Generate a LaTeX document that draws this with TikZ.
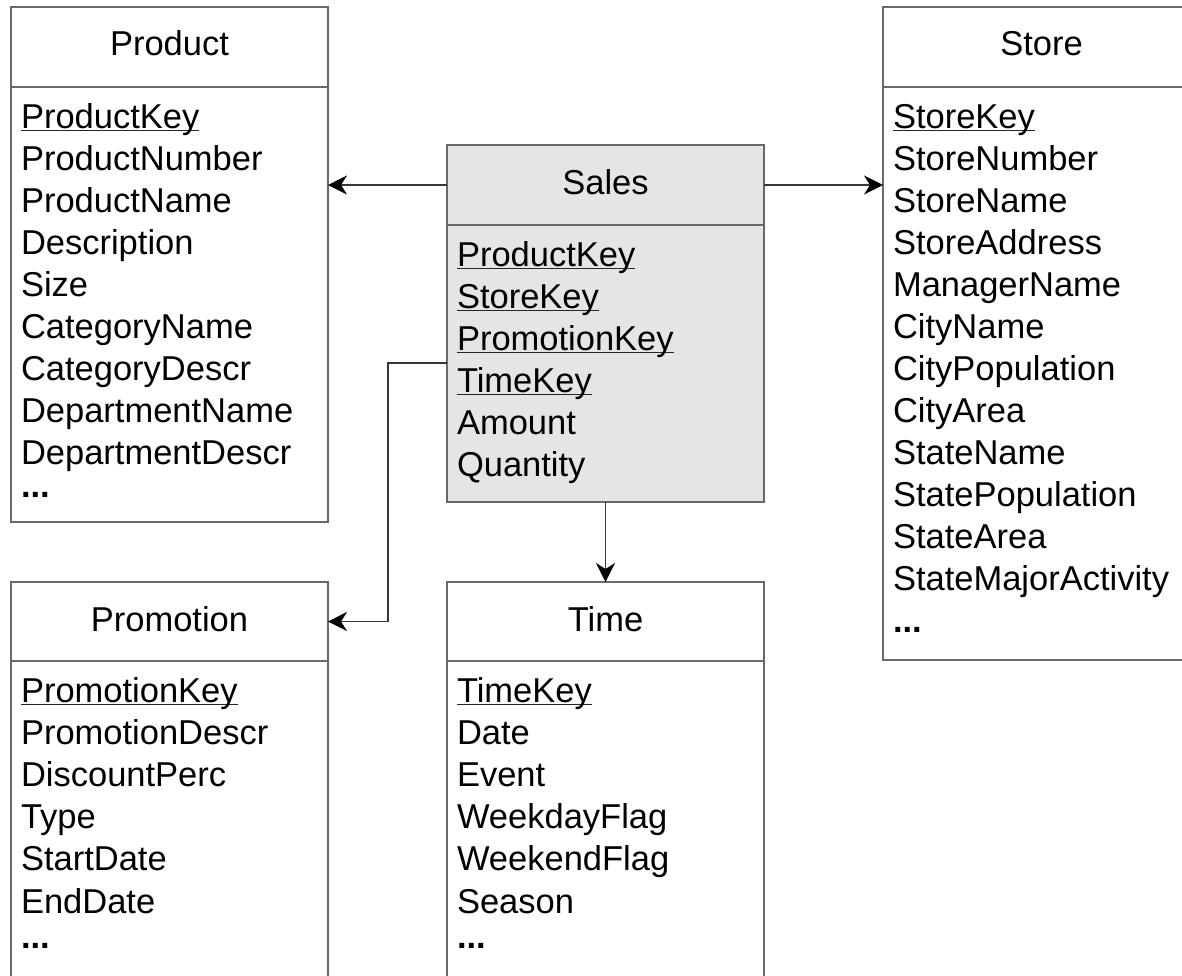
\documentclass[tikz,border=0pt]{standalone}
\usepackage{fontspec}
\setmainfont{Liberation Sans}
\usetikzlibrary{arrows.meta}
\definecolor{boxgray}{RGB}{105,105,105}
\definecolor{salesfill}{RGB}{229,229,229}
\definecolor{conncol}{RGB}{55,55,55}
\newsavebox\keybox
\newcommand\keyul[1]{\sbox\keybox{#1}\rlap{\color{black!85}\rule[-3.4pt]{\wd\keybox}{1.8pt}}\usebox\keybox}
\newcommand\moredots{\textbf{...}}
\begin{document}
\begin{tikzpicture}[x=1pt,y=-1pt,
  box/.style={draw=boxgray, line width=1.8pt, minimum width=317pt, inner sep=0pt, outer sep=0pt},
  txt/.style={inner sep=0pt, outer sep=0pt, font=\fontsize{34.5}{42}\selectfont, text=black},
  fld/.style={txt, anchor=base west},
  ttl/.style={txt, anchor=base},
  conn/.style={draw=conncol, line width=1.4pt, -{Stealth[length=19pt, width=19pt, inset=6pt, color=black]}}]
\useasboundingbox (0,0) rectangle (1182,975);
\clip (0,0) rectangle (1182,975);
% Product
\node[box, minimum height=80pt] (prodH) at (169.5,47) {};
\node[box, minimum height=435pt] (prodB) at (169.5,304.5) {};
% Sales
\node[box, minimum height=80pt, fill=salesfill] (salesH) at (605.5,185) {};
\node[box, minimum height=277pt, fill=salesfill] (salesB) at (605.5,363.5) {};
% Store
\node[box, minimum height=80pt] (storeH) at (1041.5,47) {};
\node[box, minimum height=573pt] (storeB) at (1041.5,373.5) {};
% Promotion
\node[box, minimum height=79pt] (promoH) at (169.5,621.5) {};
\node[box, minimum height=339pt] (promoB) at (169.5,830.5) {};
% Time
\node[box, minimum height=79pt] (timeH) at (605.5,621.5) {};
\node[box, minimum height=339pt] (timeB) at (605.5,830.5) {};
% titles
\node[ttl] (prodT) at ([yshift=-8pt]prodH.center) {Product};
\node[ttl] (salesT) at ([yshift=-9.5pt]salesH.center) {Sales};
\node[ttl] (storeT) at ([yshift=-8pt]storeH.center) {Store};
\node[ttl] (promoT) at ([yshift=-9.5pt]promoH.center) {Promotion};
\node[ttl] (timeT) at ([yshift=-9.5pt]timeH.center) {Time};
% fields
\foreach \t [count=\i from 0] in {\keyul{ProductKey},ProductNumber,ProductName,Description,Size,CategoryName,CategoryDescr,DepartmentName,DepartmentDescr}
  {\node[fld] (prod\i) at (21,128+42*\i) {\t};}
\node[fld] (prodDots) at (21,497) {\moredots};
\foreach \t [count=\i from 0] in {\keyul{ProductKey},\keyul{StoreKey},\keyul{PromotionKey},\keyul{TimeKey},Amount,Quantity}
  {\node[fld] (sales\i) at (457,266+42*\i) {\t};}
\foreach \t [count=\i from 0] in {\keyul{StoreKey},StoreNumber,StoreName,StoreAddress,ManagerName,CityName,CityPopulation,CityArea,StateName,StatePopulation,StateArea,StateMajorActivity}
  {\node[fld] (store\i) at (893,128+42*\i) {\t};}
\node[fld] (storeDots) at (893,632) {\moredots};
\foreach \t [count=\i from 0] in {\keyul{PromotionKey},PromotionDescr,DiscountPerc,Type,StartDate,EndDate}
  {\node[fld] (promo\i) at (21,702+42.2*\i) {\t};}
\node[fld] (promoDots) at (21,948) {\moredots};
\foreach \t [count=\i from 0] in {\keyul{TimeKey},Date,Event,WeekdayFlag,WeekendFlag,Season}
  {\node[fld] (time\i) at (457,702+42.2*\i) {\t};}
\node[fld] (timeDots) at (457,948) {\moredots};
% connectors
\draw[conn] (salesH.west) -- (salesH.west -| prodB.east);
\draw[conn] (salesH.east) -- (salesH.east -| storeB.west);
\draw[conn] (salesB.south) -- (timeH.north);
\coordinate (bend) at (388,363);
\draw[conn] (salesB.west |- bend) -- (bend) |- (promoH.east);
\end{tikzpicture}
\end{document}
